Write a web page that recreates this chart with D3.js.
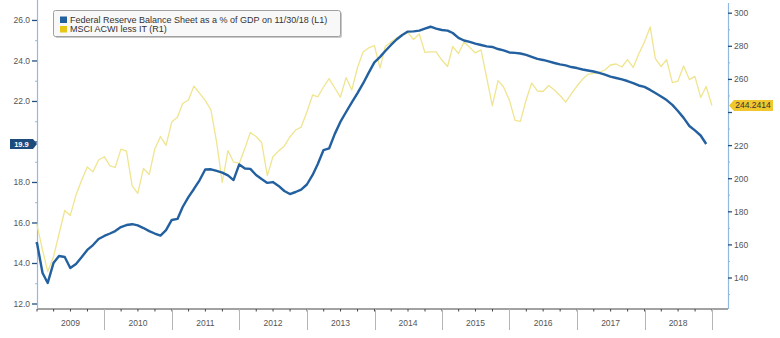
<!DOCTYPE html>
<html>
<head>
<meta charset="utf-8">
<script src="https://cdn.jsdelivr.net/npm/d3@7"></script>
<style>
  html, body { margin: 0; padding: 0; background: #ffffff; }
  svg { display: block; font-family: "Liberation Sans", Arial, sans-serif; }
</style>
</head>
<body>
<svg id="chart" width="780" height="338"></svg>
<script>
// Month-end observations, starting Dec 2008
const firstYear = 2009;

// Federal Reserve balance sheet as % of GDP (left axis), Dec 2008 .. Nov 2018
const fedBalancePct = [
  15.06, 13.53, 13.04, 14.02, 14.37, 14.32, 13.78, 13.98, 14.32, 14.67, 14.91, 15.21,
  15.36, 15.48, 15.60, 15.80, 15.90, 15.94, 15.88, 15.75, 15.60, 15.48, 15.38, 15.65,
  16.15, 16.20, 16.79, 17.28, 17.68, 18.12, 18.64, 18.65, 18.57, 18.49, 18.35, 18.12,
  18.89, 18.69, 18.67, 18.37, 18.17, 17.98, 18.02, 17.83, 17.58, 17.43, 17.53, 17.65,
  17.90, 18.37, 18.91, 19.60, 19.68, 20.40, 20.99, 21.48, 21.95, 22.40, 22.89, 23.41,
  23.93, 24.20, 24.49, 24.79, 25.06, 25.28, 25.45, 25.46, 25.50, 25.60, 25.69, 25.60,
  25.53, 25.50, 25.38, 25.14, 25.01, 24.94, 24.86, 24.79, 24.72, 24.69, 24.59, 24.52,
  24.42, 24.40, 24.37, 24.30, 24.20, 24.10, 24.05, 23.98, 23.90, 23.83, 23.78, 23.70,
  23.65, 23.58, 23.53, 23.48, 23.41, 23.33, 23.23, 23.16, 23.09, 23.01, 22.91, 22.79,
  22.72, 22.57, 22.42, 22.25, 22.07, 21.83, 21.53, 21.19, 20.79, 20.57, 20.32, 19.90
];

// MSCI ACWI less IT index level (right axis), Dec 2008 .. Dec 2018
const msciAcwiLessIT = [
  172.6, 156.9, 143.9, 152.7, 166.6, 180.8, 177.8, 190.2, 199.2, 207.1, 204.2, 211.3,
  213.3, 207.7, 206.8, 217.9, 216.7, 195.6, 191.1, 206.2, 202.5, 217.9, 225.5, 220.1,
  234.3, 237.3, 245.4, 247.6, 256.0, 251.5, 247.3, 241.5, 221.9, 197.7, 217.0, 210.1,
  209.2, 218.5, 227.9, 225.5, 221.9, 201.9, 213.3, 216.7, 219.8, 225.2, 229.4, 231.2,
  240.3, 250.6, 249.5, 255.4, 260.5, 254.8, 249.2, 261.1, 253.6, 266.9, 276.6, 279.0,
  280.5, 266.9, 279.9, 282.6, 285.0, 287.1, 288.3, 284.1, 287.4, 276.3, 276.6, 276.6,
  271.7, 267.8, 279.9, 275.6, 282.6, 279.3, 276.0, 277.8, 260.8, 244.2, 259.3, 255.4,
  247.6, 235.2, 234.6, 247.6, 257.8, 253.0, 252.7, 256.3, 253.6, 250.3, 246.3, 251.2,
  256.0, 260.2, 263.0, 263.6, 264.2, 265.7, 268.7, 269.3, 267.5, 272.0, 267.2, 275.3,
  282.6, 291.7, 272.6, 267.8, 272.0, 258.1, 259.0, 268.1, 259.9, 261.8, 249.1, 255.7,
  244.2414
];

// Major ticks; the 20.0 and 240 labels sit under the last-value tags
const leftTicks = [12, 14, 16, 18, 20, 22, 24, 26];
const leftLabelled = [12, 14, 16, 18, 22, 24, 26];
const leftMinorTicks = [13, 15, 17, 19, 21, 23, 25];
const rightTicks = [140, 160, 180, 200, 220, 240, 260, 280, 300];
const rightLabelled = [140, 160, 180, 200, 220, 260, 280, 300];
const rightMinorTicks = [130, 150, 170, 190, 210, 230, 250, 270, 290];
const yearLabels = d3.range(2009, 2019);

const legendLabels = [
  "Federal Reserve Balance Sheet as a % of GDP on 11/30/18 (L1)",
  "MSCI ACWI less IT (R1)"
];
const fedTag = "19.9";
const msciTag = "244.2414";

const BLUE = "#23609f";
const YELLOW = "#efe58f";
const AXIS_BLUE = "#93b9dc";
const TICK_BLUE = "#24507e";
const TEXT = "#555555";

// Point i sits at the last day of month (i-1) relative to Jan 2009
const monthEnd = i => new Date(firstYear, i, 0);

const svg = d3.select("#chart");
const plot = { left: 37, right: 728, top: 2, bottom: 309 };

const x = d3.scaleTime()
  .domain([new Date(2009, 0, 1), new Date(2019, 2, 28)])
  .range([plot.left, plot.right]);
const yL = d3.scaleLinear().domain([11.753, 27.01]).range([plot.bottom, 0]);
const yR = d3.scaleLinear().domain([121.27, 307.98]).range([plot.bottom, 0]);

// Bottom axis: quarter ticks, year separators, centred year labels
const gx = svg.append("g");
gx.append("line")
  .attr("x1", plot.left).attr("x2", plot.right)
  .attr("y1", plot.bottom).attr("y2", plot.bottom)
  .attr("stroke", "#444").attr("stroke-width", 1);
gx.selectAll("line.q")
  .data(d3.timeMonth.every(3).range(new Date(2009, 0, 1), new Date(2019, 2, 1)))
  .join("line").attr("class", "q")
  .attr("x1", d => x(d)).attr("x2", d => x(d))
  .attr("y1", plot.bottom).attr("y2", plot.bottom + 2.5)
  .attr("stroke", "#444").attr("stroke-width", 1);
gx.selectAll("line.sep")
  .data(d3.range(2010, 2020).map(yv => new Date(yv, 0, 1)))
  .join("line").attr("class", "sep")
  .attr("x1", d => Math.round(x(d)) + 0.5).attr("x2", d => Math.round(x(d)) + 0.5)
  .attr("y1", plot.bottom).attr("y2", 330)
  .attr("stroke", "#b5b5b5").attr("stroke-width", 1);
gx.selectAll("text")
  .data(yearLabels)
  .join("text")
  .attr("x", d => x(new Date(d, 6, 1)))
  .attr("y", 326)
  .attr("text-anchor", "middle")
  .attr("font-size", 8.5)
  .attr("fill", TEXT)
  .text(d => d);

// Left axis
const gl = svg.append("g");
gl.append("line")
  .attr("x1", plot.left + 0.5).attr("x2", plot.left + 0.5)
  .attr("y1", 0).attr("y2", plot.bottom)
  .attr("stroke", AXIS_BLUE).attr("stroke-width", 1.2);
gl.selectAll("line.maj").data(leftTicks).join("line").attr("class", "maj")
  .attr("x1", plot.left - 5).attr("x2", plot.left)
  .attr("y1", d => yL(d)).attr("y2", d => yL(d))
  .attr("stroke", TICK_BLUE).attr("stroke-width", 1.3);
gl.selectAll("line.min").data(leftMinorTicks).join("line").attr("class", "min")
  .attr("x1", plot.left - 2).attr("x2", plot.left)
  .attr("y1", d => yL(d)).attr("y2", d => yL(d))
  .attr("stroke", AXIS_BLUE).attr("stroke-width", 1);
gl.selectAll("text").data(leftLabelled).join("text")
  .attr("x", plot.left - 7)
  .attr("y", d => yL(d) + 3)
  .attr("text-anchor", "end")
  .attr("font-size", 8.5)
  .attr("fill", TEXT)
  .text(d => d.toFixed(1));

// Right axis
const gr = svg.append("g");
gr.append("line")
  .attr("x1", plot.right + 0.5).attr("x2", plot.right + 0.5)
  .attr("y1", 3).attr("y2", plot.bottom)
  .attr("stroke", AXIS_BLUE).attr("stroke-width", 1.2);
gr.selectAll("line.maj").data(rightTicks).join("line").attr("class", "maj")
  .attr("x1", plot.right).attr("x2", plot.right + 4)
  .attr("y1", d => yR(d)).attr("y2", d => yR(d))
  .attr("stroke", TICK_BLUE).attr("stroke-width", 1.3);
gr.selectAll("line.min").data(rightMinorTicks).join("line").attr("class", "min")
  .attr("x1", plot.right).attr("x2", plot.right + 2)
  .attr("y1", d => yR(d)).attr("y2", d => yR(d))
  .attr("stroke", AXIS_BLUE).attr("stroke-width", 1);
gr.selectAll("text").data(rightLabelled).join("text")
  .attr("x", plot.right + 6)
  .attr("y", d => yR(d) + 3)
  .attr("font-size", 8.5)
  .attr("fill", TEXT)
  .text(d => d);

// Series lines
svg.append("path")
  .datum(msciAcwiLessIT)
  .attr("fill", "none")
  .attr("stroke", YELLOW)
  .attr("stroke-width", 1.3)
  .attr("stroke-linejoin", "round")
  .attr("d", d3.line().x((d, i) => x(monthEnd(i))).y(d => yR(d)));

svg.append("path")
  .datum(fedBalancePct)
  .attr("fill", "none")
  .attr("stroke", BLUE)
  .attr("stroke-width", 2.4)
  .attr("stroke-linejoin", "round")
  .attr("d", d3.line().x((d, i) => x(monthEnd(i))).y(d => yL(d)));

// Last-value tags on each axis
const fedY = yL(fedBalancePct[fedBalancePct.length - 1]);
svg.append("path")
  .attr("d", `M10,${fedY - 5} H33 L37,${fedY} L33,${fedY + 5} H10 Z`)
  .attr("fill", "#1d4b7c");
svg.append("text")
  .attr("x", 21.5).attr("y", fedY + 2.6)
  .attr("text-anchor", "middle")
  .attr("font-size", 7.5).attr("font-weight", "bold")
  .attr("fill", "#ffffff")
  .text(fedTag);

const msciY = yR(msciAcwiLessIT[msciAcwiLessIT.length - 1]);
svg.append("path")
  .attr("d", `M729,${msciY} L734,${msciY - 5.5} H773 V${msciY + 5.5} H734 Z`)
  .attr("fill", "#f1c72e");
svg.append("text")
  .attr("x", 753).attr("y", msciY + 3)
  .attr("text-anchor", "middle")
  .attr("font-size", 8.5)
  .attr("fill", "#333333")
  .text(msciTag);

// Legend
const lg = svg.append("g");
lg.append("rect")
  .attr("x", 55).attr("y", 12).attr("width", 287).attr("height", 26)
  .attr("rx", 2).attr("fill", "#c9c9c9");
lg.append("rect")
  .attr("x", 53.5).attr("y", 10.5).attr("width", 287).attr("height", 26)
  .attr("rx", 2).attr("fill", "#f8f8f8").attr("stroke", "#a0a0a0");
const legendColors = [BLUE, "#e6c619"];
legendLabels.forEach((t, i) => {
  lg.append("rect")
    .attr("x", 60).attr("y", 16.5 + i * 9.5)
    .attr("width", 7).attr("height", 6.5)
    .attr("fill", legendColors[i]);
  lg.append("text")
    .attr("x", 70).attr("y", 22.5 + i * 9.5)
    .attr("font-size", 9)
    .attr("fill", "#333333")
    .text(t);
});
</script>
</body>
</html>
